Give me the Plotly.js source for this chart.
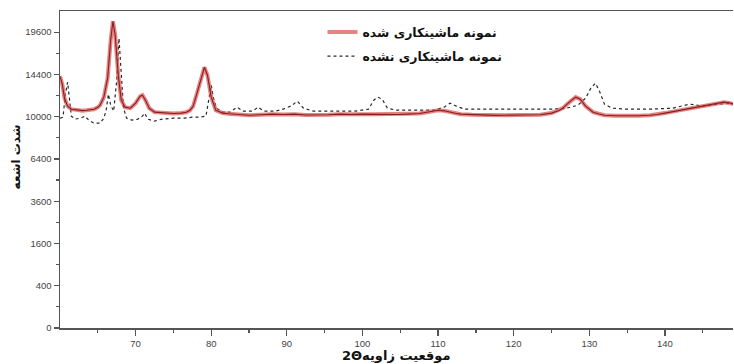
<!DOCTYPE html>
<html><head><meta charset="utf-8">
<script src="https://cdn.plot.ly/plotly-3.0.1.min.js"></script>
<style>html,body{margin:0;padding:0;background:#fff}#chart{width:734px;height:364px}</style>
</head><body><div id="chart"></div>
<script>
// 2θ positions (degrees) and intensities for the machined sample (red)
const machinedAngle = [60.0,60.3,60.6,61.0,61.5,62.0,62.5,63.0,63.5,64.0,64.5,65.0,65.3,65.8,66.3,66.7,67.0,67.3,67.7,68.1,68.6,69.3,70.0,70.6,70.9,71.3,71.8,72.5,73.2,74.0,75.0,76.0,76.7,77.2,77.6,78.0,78.6,79.1,79.5,80.0,80.6,81.5,82.3,83.0,84.0,85.0,86.5,88.0,89.5,91.0,92.5,94.0,95.5,97.0,98.5,100.0,101.5,103.0,104.5,106.0,107.5,108.5,109.3,110.0,110.8,111.5,112.3,113.0,114.5,116.0,117.5,119.0,120.5,122.0,123.5,125.0,126.0,126.5,127.0,127.5,128.2,128.8,129.5,130.5,131.3,132.0,133.5,135.0,136.5,138.0,139.0,140.0,141.0,142.0,143.0,144.0,145.0,146.0,147.0,147.8,148.5,149.0];
const machinedInt   = [14190,13310,11820,11020,10720,10650,10620,10580,10620,10680,10720,10900,11120,11930,13970,18540,21070,19190,14310,11620,10920,10820,11320,12030,12140,11620,10820,10430,10380,10340,10300,10340,10420,10620,11000,12030,13750,15230,14310,11930,10620,10340,10280,10240,10200,10140,10180,10240,10200,10240,10160,10140,10180,10240,10200,10240,10220,10240,10200,10240,10300,10430,10540,10620,10560,10430,10330,10240,10180,10140,10120,10140,10160,10140,10180,10340,10600,10820,11180,11520,11930,11730,11020,10430,10250,10140,10080,10050,10080,10140,10200,10340,10480,10620,10780,10920,11060,11220,11340,11420,11350,11220];
// 2θ positions (degrees) and intensities for the unmachined sample (black dotted)
const unmachinedAngle = [60.0,60.4,60.7,61.0,61.2,61.5,62.0,62.7,63.3,63.8,64.5,65.3,65.8,66.1,66.4,66.7,67.1,67.5,67.8,68.1,68.4,68.8,69.5,70.3,70.9,71.2,71.6,72.5,73.5,75.0,76.5,77.5,78.5,79.3,79.7,80.0,80.3,80.7,81.5,82.5,83.4,84.2,85.5,86.2,87.0,88.5,89.5,90.5,91.4,92.2,93.5,96.0,99.0,100.8,101.5,102.0,102.6,103.3,104.5,107.0,109.5,110.8,111.6,112.4,113.5,116.0,119.0,122.0,125.0,127.0,128.5,129.5,130.2,130.8,131.4,132.0,133.0,135.0,138.0,141.0,143.3,145.0,147.0,149.0];
const unmachinedInt   = [9860,9950,12140,13530,12140,10050,9770,9860,10050,9670,9390,9390,9860,10620,12240,11120,10530,13750,18800,14880,10820,9860,9670,9770,10050,10340,9770,9580,9770,9860,9860,9950,9950,10050,11620,13200,11820,10820,10430,10430,10920,10530,10530,10920,10530,10530,10720,11020,11520,10820,10530,10530,10530,10720,11620,11930,11730,10820,10620,10620,10620,10920,11320,11020,10720,10720,10720,10720,10720,10820,11120,11820,12880,13420,12450,11220,10820,10720,10720,10820,11220,11020,11220,11320];
// y tick labels (square-root intensity scale)
const yTickLabels = ['0','400','1600','3600','6400','10000','14400','19600'];
const xTickLabels = ['70','80','90','100','110','120','130','140'];
const legendNames = ['نمونه ماشینکاری شده','نمونه ماشینکاری نشده'];
const xTitle = '2Θ' + 'موقعیت زاویه';
const yTitle = 'شدت اشعه';

const sq = a => a.map(v => Math.sqrt(v));
const yTickVals = yTickLabels.map(t => Math.sqrt(+t));
const FONT = 'Arial, "Liberation Sans", "DejaVu Sans", sans-serif';
const AFONT = '"DejaVu Sans", Arial, sans-serif';

const traces = [
  {x: unmachinedAngle, y: sq(unmachinedInt), mode:'lines', name: legendNames[1],
   line:{color:'#2a2a2a', width:1.2, dash:'dot'}, legendrank:2, legendgroup:'b'},
  {x: machinedAngle, y: sq(machinedInt), mode:'lines', name: legendNames[0],
   line:{color:'rgba(218,80,80,0.7)', width:4}, legendrank:1, legendgroup:'a'},
  {x: machinedAngle, y: sq(machinedInt), mode:'lines', showlegend:false, legendgroup:'a',
   line:{color:'#8a1f1f', width:1.1}}
];

const layout = {
  width:734, height:364,
  margin:{l:60, r:1, t:11, b:36},
  paper_bgcolor:'#fff', plot_bgcolor:'#fff',
  font:{family:FONT, color:'#333'},
  showlegend:true,
  legend:{x:0.39, y:0.98, xanchor:'left', yanchor:'top', bgcolor:'rgba(0,0,0,0)',
    traceorder:'grouped', tracegroupgap:5,
    font:{family:AFONT, size:12.5, color:'#111', weight:'bold'}},
  xaxis:{range:[60,149], showgrid:false, zeroline:false,
    tickvals:xTickLabels.map(Number), ticktext:xTickLabels,
    ticks:'outside', ticklen:6, tickwidth:1.2, tickcolor:'#555',
    minor:{tickvals:[65,75,85,95,105,115,125,135,145], ticks:'outside', ticklen:3, tickcolor:'#555', tickwidth:1.2},
    showline:true, linecolor:'#555', linewidth:1.5, mirror:true,
    tickfont:{size:9.5, color:'#444'}
  },
  yaxis:{range:[0,150], showgrid:false, zeroline:false,
    tickvals:yTickVals, ticktext:yTickLabels,
    ticks:'outside', ticklen:5, tickwidth:1.2, tickcolor:'#555',
    minor:{tickvals:[10,30,50,70,90,110,130], ticks:'outside', ticklen:3, tickcolor:'#555', tickwidth:1.2},
    showline:true, linecolor:'#555', linewidth:1.5,
    tickfont:{size:9.5, color:'#444'}
  },
  annotations:[
    {text:yTitle, xref:'paper', yref:'paper', x:-0.066, y:0.54, xanchor:'center', yanchor:'middle',
     textangle:-90, showarrow:false, font:{family:AFONT, size:12, color:'#111', weight:'bold'}},
    {text:xTitle, xref:'paper', yref:'paper', x:0.5, y:-0.1135, xanchor:'center', yanchor:'bottom',
     showarrow:false, borderpad:0, font:{family:AFONT, size:13, color:'#111', weight:'bold'}}
  ]
};

Plotly.newPlot('chart', traces, layout, {displayModeBar:false, staticPlot:true});
</script></body></html>
